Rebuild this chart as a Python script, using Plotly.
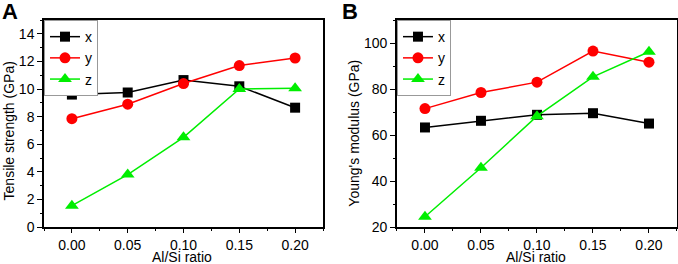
import plotly.graph_objects as go

ratio = [0.00, 0.05, 0.10, 0.15, 0.20]
tick_labels = ["0.00", "0.05", "0.10", "0.15", "0.20"]
series_names = ["x", "y", "z"]

tensile_x = [9.6, 9.75, 10.65, 10.2, 8.65]
tensile_y = [7.85, 8.9, 10.4, 11.7, 12.25]
tensile_z = [1.55, 3.8, 6.5, 10.0, 10.05]

modulus_x = [63.3, 66.2, 68.8, 69.5, 65.0]
modulus_y = [71.5, 78.5, 83.0, 96.5, 91.7]
modulus_z = [24.5, 45.8, 68.2, 85.3, 96.2]

colors = ["#000000", "#ff0000", "#00ee00"]
symbols = ["square", "circle", "triangle-up"]
sizes = [10, 11, 12]

FONT = "Liberation Sans, Arial, sans-serif"
fig = go.Figure()

panels = [
    ([tensile_x, tensile_y, tensile_z], "x", "y", "legend"),
    ([modulus_x, modulus_y, modulus_z], "x2", "y2", "legend2"),
]
for data, xa, ya, lg in panels:
    for name, vals, c, s, sz in zip(series_names, data, colors, symbols, sizes):
        fig.add_trace(go.Scatter(
            x=ratio, y=vals, name=name, mode="lines+markers",
            line=dict(color=c, width=1.5),
            marker=dict(symbol=s, size=sz, color=c),
            xaxis=xa, yaxis=ya, legend=lg,
        ))

xcommon = dict(range=[-0.025, 0.225], tickvals=ratio, ticktext=tick_labels,
               showline=True, linecolor="black", linewidth=1.5, mirror=True,
               ticks="outside", ticklen=4, tickwidth=1.2, tickcolor="black",
               minor=dict(ticks="outside", ticklen=2, tickwidth=1, dtick=0.025, tick0=0),
               showgrid=False, zeroline=False, automargin=False,
               tickfont=dict(family=FONT, size=14, color="black"))
ycommon = dict(showline=True, linecolor="black", linewidth=1.5, mirror=True,
               ticks="outside", ticklen=5, tickwidth=1.2, tickcolor="black",
               showgrid=False, zeroline=False, automargin=False,
               tickfont=dict(family=FONT, size=14, color="black"))
right_common = dict(ticks="inside", ticklen=4, tickwidth=1.2, tickcolor="black",
                    showticklabels=False, showgrid=False, zeroline=False,
                    showline=False, automargin=False)

title_font = dict(family=FONT, size=14, color="black")
legend_common = dict(xanchor="left", yanchor="top", bgcolor="white",
                     bordercolor="#999999", borderwidth=1,
                     font=dict(family=FONT, size=14, color="black"),
                     itemwidth=30, tracegroupgap=0)

fig.update_layout(
    width=678, height=264, margin=dict(l=0, r=0, t=0, b=0, autoexpand=False),
    paper_bgcolor="white", plot_bgcolor="white", showlegend=True,
    xaxis=dict(domain=[0.0649, 0.4764], anchor="y", **xcommon),
    xaxis2=dict(domain=[0.5855, 0.9985], anchor="y2", **xcommon),
    yaxis=dict(domain=[0.14, 0.924], anchor="x", range=[0, 15], dtick=2, tick0=0,
               minor=dict(ticks="outside", ticklen=2, tickwidth=1, dtick=1), **ycommon),
    yaxis2=dict(domain=[0.14, 0.924], anchor="x2", range=[20, 110], dtick=20, tick0=20,
                minor=dict(ticks="outside", ticklen=2, tickwidth=1, dtick=10), **ycommon),
    yaxis3=dict(overlaying="y", side="right", anchor="x", range=[0, 15], dtick=2, tick0=0,
                minor=dict(ticks="inside", ticklen=2, tickwidth=1, dtick=1), **right_common),
    yaxis4=dict(overlaying="y2", side="right", anchor="x2", range=[20, 110], dtick=20, tick0=20,
                minor=dict(ticks="inside", ticklen=2, tickwidth=1, dtick=10), **right_common),
    legend=dict(x=0.0649, y=0.924, **legend_common),
    legend2=dict(x=0.5855, y=0.924, **legend_common),
    annotations=[
        dict(text="<b>A</b>", x=0.0, y=1.01, xref="paper", yref="paper", xanchor="left", yanchor="top",
             showarrow=False, font=dict(family=FONT, size=22, color="black")),
        dict(text="<b>B</b>", x=0.5015, y=1.01, xref="paper", yref="paper", xanchor="left", yanchor="top",
             showarrow=False, font=dict(family=FONT, size=22, color="black")),
        dict(text="Al/Si ratio", x=0.268, y=0.027, xref="paper", yref="paper", xanchor="center",
             yanchor="middle", showarrow=False, font=title_font),
        dict(text="Al/Si ratio", x=0.790, y=0.027, xref="paper", yref="paper", xanchor="center",
             yanchor="middle", showarrow=False, font=title_font),
        dict(text="Tensile strength (GPa)", x=0.0125, y=0.504, xref="paper", yref="paper",
             xanchor="center", yanchor="middle", textangle=-90, showarrow=False, font=title_font),
        dict(text="Young's modulus (GPa)", x=0.5215, y=0.496, xref="paper", yref="paper",
             xanchor="center", yanchor="middle", textangle=-90, showarrow=False, font=title_font),
    ],
)

fig.write_html("out.html", config={"displayModeBar": False},
               post_script="document.body.style.margin='0';document.body.style.padding='0';")
